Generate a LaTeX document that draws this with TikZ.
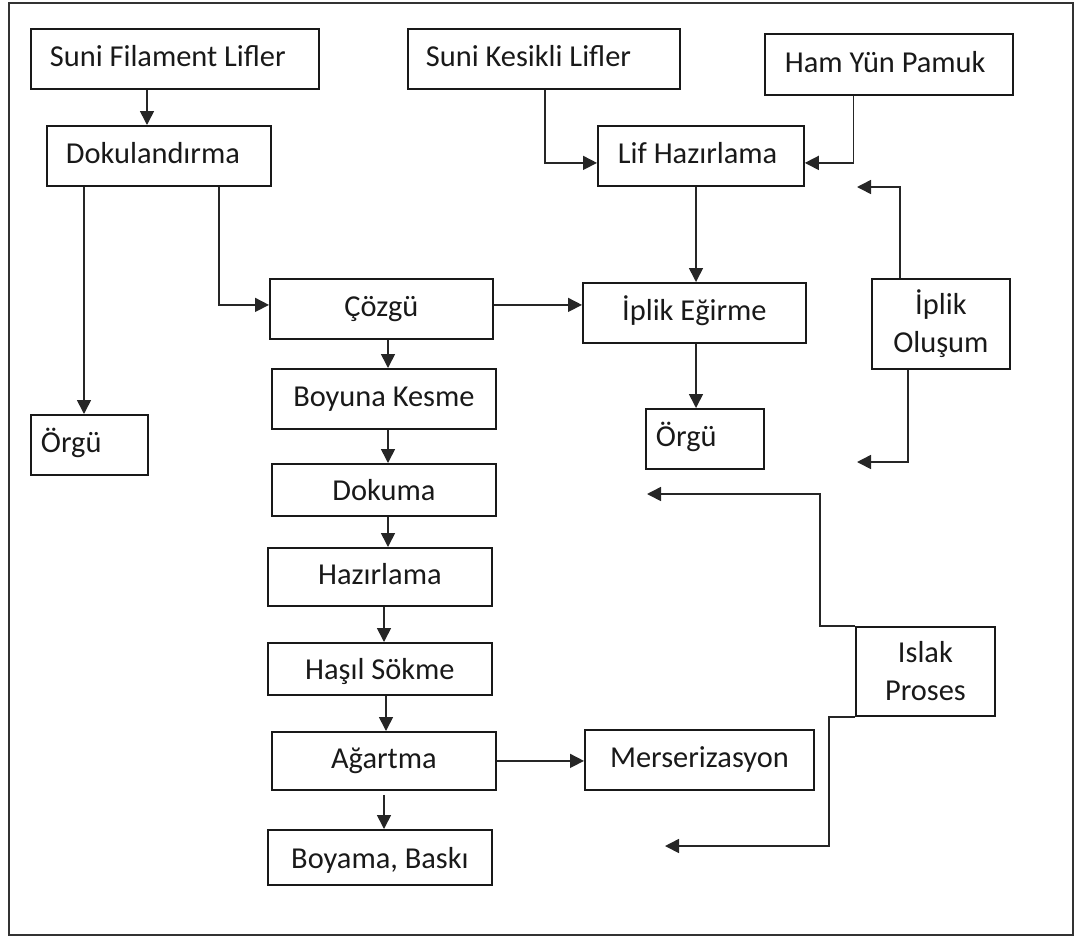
\documentclass[tikz,border=0pt]{standalone}
\usepackage{fontspec}
\setmainfont{Carlito}
\usetikzlibrary{arrows.meta}
\begin{document}
\begin{tikzpicture}[x=1pt,y=-1pt,
  boxbase/.style={draw=black!90, line width=1.8pt, text=black!90, inner sep=0pt,
    font=\fontsize{30.4}{38}\selectfont, anchor=north west, align=center},
  box/.style={boxbase, text height=22pt, text depth=6pt},
  lowbox/.style={boxbase, text height=25pt, text depth=3pt},
  lbox/.style={box, align=flush left},
  twoline/.style={boxbase},
  arr/.style={draw=black!85, line width=1.6pt, -{Triangle[length=14pt,width=14pt]}},
  frame/.style={draw=black!80, line width=2pt}]
\useasboundingbox (0,0) rectangle (1075,938);
\draw[frame] (9,3) rectangle (1073,935);

% left-aligned boxes
\node[lbox, minimum width=288, minimum height=60, text width=250pt, inner xsep=19pt] (sfl) at (30,28) {Suni Filament Lifler};
\node[lbox, minimum width=224, minimum height=60, text width=186pt, inner xsep=19pt] (dok) at (46,125) {Dokulandırma};
\node[lbox, minimum width=272, minimum height=60, text width=236pt, inner xsep=18pt] (skl) at (407,28) {Suni Kesikli Lifler};
\node[lbox, minimum width=248, minimum height=61, text width=208pt, inner xsep=20pt] (hyp) at (764,33) {Ham Yün Pamuk};
\node[lbox, minimum width=206, minimum height=60, text width=166pt, inner xsep=20pt] (lif) at (597,125) {Lif Hazırlama};
\node[lbox, minimum width=117, minimum height=60, text width=97pt, inner xsep=10pt] (org1) at (30,414) {Örgü};
\node[lbox, minimum width=118, minimum height=60, text width=98pt, inner xsep=10pt] (org2) at (645,408) {Örgü};

% centred boxes
\node[box, minimum width=223, minimum height=60] (coz) at (269,278) {Çözgü};
\node[box, minimum width=223, minimum height=60] (ipe) at (582,282) {İplik Eğirme};
\node[twoline, minimum width=138, minimum height=90] (ipo) at (871,278) {İplik\\Oluşum};
\node[box, minimum width=224, minimum height=60] (boy) at (271,368) {Boyuna Kesme};
\node[lowbox, minimum width=224, minimum height=52] (dkm) at (271,463) {Dokuma};
\node[box, minimum width=224, minimum height=58] (haz) at (267,547) {Hazırlama};
\node[lowbox, minimum width=224, minimum height=52] (has) at (267,642) {Haşıl Sökme};
\node[box, minimum width=224, minimum height=58] (aga) at (271,731) {Ağartma};
\node[lowbox, minimum width=224, minimum height=55] (bsk) at (267,829) {Boyama, Baskı};
\node[box, minimum width=229, minimum height=60] (mer) at (584,729) {Merserizasyon};
\node[twoline, minimum width=139, minimum height=89] (isl) at (855,626) {Islak\\Proses};

% connector start points
\coordinate (c1) at ([xshift=117pt]sfl.south west);
\coordinate (c2) at ([xshift=38pt]dok.south west);
\coordinate (c3) at ([xshift=173pt]dok.south west);
\coordinate (c5) at ([xshift=119pt]coz.south west);
\coordinate (c6) at ([xshift=117pt]boy.south west);
\coordinate (c7) at ([xshift=117pt]dkm.south west);
\coordinate (c8) at ([xshift=117pt]haz.south west);
\coordinate (c9) at ([xshift=119pt]has.south west);
\coordinate (c10) at ([xshift=113pt,yshift=-4pt]aga.south west);
\coordinate (c12) at ([xshift=138pt]skl.south west);
\coordinate (c13) at ([xshift=89.5pt]hyp.south west);
\coordinate (c14) at ([xshift=99pt]lif.south west);
\coordinate (c15) at ([xshift=114pt]ipe.south west);
\coordinate (c16) at ([xshift=29pt]ipo.north west);
\coordinate (c17) at ([xshift=37pt]ipo.south west);
% free ends
\coordinate (e16) at (857,187);
\coordinate (e17) at (857,462);
\coordinate (e18) at (647,494);
\coordinate (e19) at (665,846);

\draw[arr] (c1) -- (c1 |- dok.north);
\draw[arr] (c2) -- (c2 |- org1.north);
\draw[arr] (c3) |- ([yshift=4pt]coz.west);
\draw[arr] ([yshift=4pt]coz.east) -- ([yshift=4pt]coz.east -| ipe.west);
\draw[arr] (c5) -- (c5 |- boy.north);
\draw[arr] (c6) -- (c6 |- dkm.north);
\draw[arr] (c7) -- (c7 |- haz.north);
\draw[arr] (c8) -- (c8 |- has.north);
\draw[arr] (c9) -- (c9 |- aga.north);
\draw[arr] (c10) -- (c10 |- bsk.north);
\draw[arr] (aga.east) -- (aga.east -| mer.west);
\draw[arr] (c12) |- ([yshift=-7pt]lif.west);
\draw[arr] (c13) |- ([yshift=-7pt]lif.east);
\draw[arr] (c14) -- (c14 |- ipe.north);
\draw[arr] (c15) -- (c15 |- org2.north);
\draw[arr] (c16) |- (e16);
\draw[arr] (c17) |- (e17);
\draw[arr] (isl.north west) -- ++(-35,0) |- (e18);
\draw[arr] (isl.south west) -- ++(-26,0) |- (e19);
\end{tikzpicture}
\end{document}
